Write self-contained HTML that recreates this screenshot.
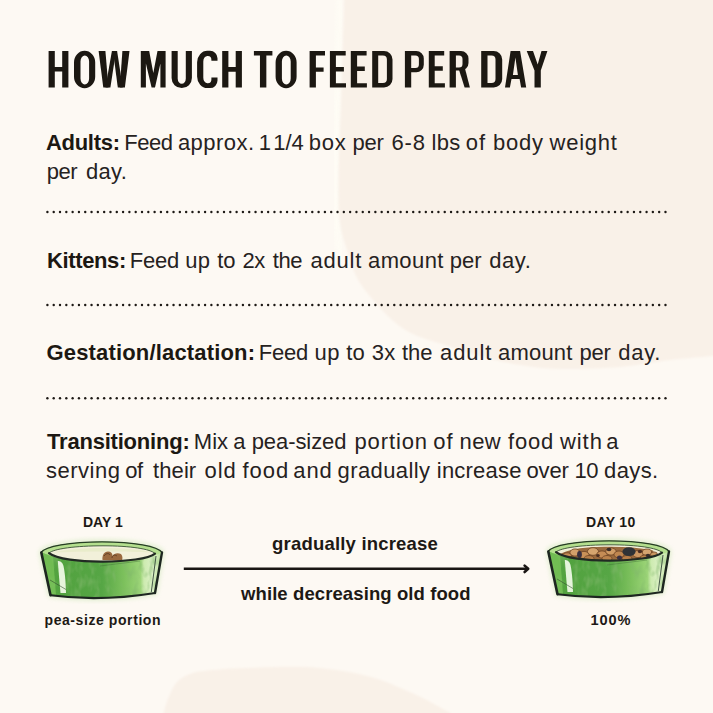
<!DOCTYPE html>
<html><head><meta charset="utf-8">
<style>
html,body{margin:0;padding:0;}
body{width:713px;height:713px;overflow:hidden;position:relative;background:#fdf9f3;font-family:"Liberation Sans",sans-serif;color:#1d1915;}
svg{position:absolute;left:0;top:0;}
.t{position:absolute;white-space:nowrap;}
.tw{position:absolute;top:42.5px;font-size:52px;line-height:54px;font-weight:bold;transform-origin:0 0;-webkit-text-stroke:1.4px #1d1915;white-space:nowrap;}
.p{position:absolute;left:47px;font-size:22px;line-height:29px;white-space:nowrap;letter-spacing:0px;color:#26221e;}
.p b{letter-spacing:0;}
.l{position:absolute;font-weight:bold;white-space:nowrap;line-height:20px;}
</style></head><body>
<svg width="713" height="713" viewBox="0 0 713 713">
  <defs><filter id="bl" x="-10%" y="-10%" width="120%" height="120%"><feGaussianBlur stdDeviation="1.3"/></filter><filter id="bl2" x="-10%" y="-10%" width="120%" height="120%"><feGaussianBlur stdDeviation="2.5"/></filter></defs><path d="M340,-5 C338.5,60 336,120 335,180 C335,215 337,240 341,260" fill="none" stroke="#fffef6" stroke-width="6" opacity="0.7" filter="url(#bl2)"/><path d="M344.6,-10 C344.5,-6.7 344.4,-6.7 343.9,10 C343.4,26.7 342.4,61.7 341.5,90 C340.6,118.3 338.8,158.0 338.5,180 C338.2,202.0 338.6,210.3 340,222 C341.4,233.7 344.2,240.7 347,250 C349.8,259.3 352.5,269.5 357,278 C361.5,286.5 368.3,294.2 374,301 C379.7,307.8 385.5,314.0 391,319 C396.5,324.0 401.7,327.8 407,331 C412.3,334.2 416.7,335.7 423,338 C429.3,340.3 436.3,342.2 445,345 C453.7,347.8 462.5,351.7 475,355 C487.5,358.3 505.8,362.7 520,365 C534.2,367.3 543.3,368.7 560,369 C576.7,369.3 601.7,368.5 620,367 C638.3,365.5 654.5,361.8 670,360 C685.5,358.2 704.2,356.8 713,356 C721.8,355.2 721.3,355.6 723,355.5 L723,-10 Z" fill="#f9f1e8" filter="url(#bl)"/>
  <path d="M163.7,723 C163.7,721.3 162.8,717.5 163.7,713 C164.6,708.5 166.7,701.5 169,696.3 C171.3,691.1 173.6,685.5 177.4,681.6 C181.2,677.8 186.1,675.1 192,673.2 C197.9,671.3 204.2,670.9 213,670 C221.8,669.1 230.2,668.5 244.7,668 C259.2,667.5 283.3,666.2 300,666.8 C316.7,667.3 331.8,669.2 344.9,671.3 C358.0,673.4 369.1,676.4 378.5,679.2 C387.9,682.0 393.5,685.0 401,688.2 C408.5,691.4 415.9,694.5 423.4,698.2 C430.9,701.9 441.5,708.1 445.9,710.6 C450.3,713.1 449.0,710.9 450,713 C451.0,715.1 451.7,721.3 452,723 Z" fill="#f9f1e8" filter="url(#bl)"/>
  <g fill="#1d1915"><circle cx="47.40" cy="212.0" r="1.2"/><circle cx="53.71" cy="212.0" r="1.2"/><circle cx="60.01" cy="212.0" r="1.2"/><circle cx="66.32" cy="212.0" r="1.2"/><circle cx="72.63" cy="212.0" r="1.2"/><circle cx="78.94" cy="212.0" r="1.2"/><circle cx="85.24" cy="212.0" r="1.2"/><circle cx="91.55" cy="212.0" r="1.2"/><circle cx="97.86" cy="212.0" r="1.2"/><circle cx="104.16" cy="212.0" r="1.2"/><circle cx="110.47" cy="212.0" r="1.2"/><circle cx="116.78" cy="212.0" r="1.2"/><circle cx="123.08" cy="212.0" r="1.2"/><circle cx="129.39" cy="212.0" r="1.2"/><circle cx="135.70" cy="212.0" r="1.2"/><circle cx="142.00" cy="212.0" r="1.2"/><circle cx="148.31" cy="212.0" r="1.2"/><circle cx="154.62" cy="212.0" r="1.2"/><circle cx="160.93" cy="212.0" r="1.2"/><circle cx="167.23" cy="212.0" r="1.2"/><circle cx="173.54" cy="212.0" r="1.2"/><circle cx="179.85" cy="212.0" r="1.2"/><circle cx="186.15" cy="212.0" r="1.2"/><circle cx="192.46" cy="212.0" r="1.2"/><circle cx="198.77" cy="212.0" r="1.2"/><circle cx="205.08" cy="212.0" r="1.2"/><circle cx="211.38" cy="212.0" r="1.2"/><circle cx="217.69" cy="212.0" r="1.2"/><circle cx="224.00" cy="212.0" r="1.2"/><circle cx="230.30" cy="212.0" r="1.2"/><circle cx="236.61" cy="212.0" r="1.2"/><circle cx="242.92" cy="212.0" r="1.2"/><circle cx="249.22" cy="212.0" r="1.2"/><circle cx="255.53" cy="212.0" r="1.2"/><circle cx="261.84" cy="212.0" r="1.2"/><circle cx="268.14" cy="212.0" r="1.2"/><circle cx="274.45" cy="212.0" r="1.2"/><circle cx="280.76" cy="212.0" r="1.2"/><circle cx="287.07" cy="212.0" r="1.2"/><circle cx="293.37" cy="212.0" r="1.2"/><circle cx="299.68" cy="212.0" r="1.2"/><circle cx="305.99" cy="212.0" r="1.2"/><circle cx="312.29" cy="212.0" r="1.2"/><circle cx="318.60" cy="212.0" r="1.2"/><circle cx="324.91" cy="212.0" r="1.2"/><circle cx="331.21" cy="212.0" r="1.2"/><circle cx="337.52" cy="212.0" r="1.2"/><circle cx="343.83" cy="212.0" r="1.2"/><circle cx="350.14" cy="212.0" r="1.2"/><circle cx="356.44" cy="212.0" r="1.2"/><circle cx="362.75" cy="212.0" r="1.2"/><circle cx="369.06" cy="212.0" r="1.2"/><circle cx="375.36" cy="212.0" r="1.2"/><circle cx="381.67" cy="212.0" r="1.2"/><circle cx="387.98" cy="212.0" r="1.2"/><circle cx="394.29" cy="212.0" r="1.2"/><circle cx="400.59" cy="212.0" r="1.2"/><circle cx="406.90" cy="212.0" r="1.2"/><circle cx="413.21" cy="212.0" r="1.2"/><circle cx="419.51" cy="212.0" r="1.2"/><circle cx="425.82" cy="212.0" r="1.2"/><circle cx="432.13" cy="212.0" r="1.2"/><circle cx="438.43" cy="212.0" r="1.2"/><circle cx="444.74" cy="212.0" r="1.2"/><circle cx="451.05" cy="212.0" r="1.2"/><circle cx="457.36" cy="212.0" r="1.2"/><circle cx="463.66" cy="212.0" r="1.2"/><circle cx="469.97" cy="212.0" r="1.2"/><circle cx="476.28" cy="212.0" r="1.2"/><circle cx="482.58" cy="212.0" r="1.2"/><circle cx="488.89" cy="212.0" r="1.2"/><circle cx="495.20" cy="212.0" r="1.2"/><circle cx="501.50" cy="212.0" r="1.2"/><circle cx="507.81" cy="212.0" r="1.2"/><circle cx="514.12" cy="212.0" r="1.2"/><circle cx="520.43" cy="212.0" r="1.2"/><circle cx="526.73" cy="212.0" r="1.2"/><circle cx="533.04" cy="212.0" r="1.2"/><circle cx="539.35" cy="212.0" r="1.2"/><circle cx="545.65" cy="212.0" r="1.2"/><circle cx="551.96" cy="212.0" r="1.2"/><circle cx="558.27" cy="212.0" r="1.2"/><circle cx="564.57" cy="212.0" r="1.2"/><circle cx="570.88" cy="212.0" r="1.2"/><circle cx="577.19" cy="212.0" r="1.2"/><circle cx="583.50" cy="212.0" r="1.2"/><circle cx="589.80" cy="212.0" r="1.2"/><circle cx="596.11" cy="212.0" r="1.2"/><circle cx="602.42" cy="212.0" r="1.2"/><circle cx="608.72" cy="212.0" r="1.2"/><circle cx="615.03" cy="212.0" r="1.2"/><circle cx="621.34" cy="212.0" r="1.2"/><circle cx="627.64" cy="212.0" r="1.2"/><circle cx="633.95" cy="212.0" r="1.2"/><circle cx="640.26" cy="212.0" r="1.2"/><circle cx="646.57" cy="212.0" r="1.2"/><circle cx="652.87" cy="212.0" r="1.2"/><circle cx="659.18" cy="212.0" r="1.2"/><circle cx="665.49" cy="212.0" r="1.2"/><circle cx="47.40" cy="305.0" r="1.2"/><circle cx="53.71" cy="305.0" r="1.2"/><circle cx="60.01" cy="305.0" r="1.2"/><circle cx="66.32" cy="305.0" r="1.2"/><circle cx="72.63" cy="305.0" r="1.2"/><circle cx="78.94" cy="305.0" r="1.2"/><circle cx="85.24" cy="305.0" r="1.2"/><circle cx="91.55" cy="305.0" r="1.2"/><circle cx="97.86" cy="305.0" r="1.2"/><circle cx="104.16" cy="305.0" r="1.2"/><circle cx="110.47" cy="305.0" r="1.2"/><circle cx="116.78" cy="305.0" r="1.2"/><circle cx="123.08" cy="305.0" r="1.2"/><circle cx="129.39" cy="305.0" r="1.2"/><circle cx="135.70" cy="305.0" r="1.2"/><circle cx="142.00" cy="305.0" r="1.2"/><circle cx="148.31" cy="305.0" r="1.2"/><circle cx="154.62" cy="305.0" r="1.2"/><circle cx="160.93" cy="305.0" r="1.2"/><circle cx="167.23" cy="305.0" r="1.2"/><circle cx="173.54" cy="305.0" r="1.2"/><circle cx="179.85" cy="305.0" r="1.2"/><circle cx="186.15" cy="305.0" r="1.2"/><circle cx="192.46" cy="305.0" r="1.2"/><circle cx="198.77" cy="305.0" r="1.2"/><circle cx="205.08" cy="305.0" r="1.2"/><circle cx="211.38" cy="305.0" r="1.2"/><circle cx="217.69" cy="305.0" r="1.2"/><circle cx="224.00" cy="305.0" r="1.2"/><circle cx="230.30" cy="305.0" r="1.2"/><circle cx="236.61" cy="305.0" r="1.2"/><circle cx="242.92" cy="305.0" r="1.2"/><circle cx="249.22" cy="305.0" r="1.2"/><circle cx="255.53" cy="305.0" r="1.2"/><circle cx="261.84" cy="305.0" r="1.2"/><circle cx="268.14" cy="305.0" r="1.2"/><circle cx="274.45" cy="305.0" r="1.2"/><circle cx="280.76" cy="305.0" r="1.2"/><circle cx="287.07" cy="305.0" r="1.2"/><circle cx="293.37" cy="305.0" r="1.2"/><circle cx="299.68" cy="305.0" r="1.2"/><circle cx="305.99" cy="305.0" r="1.2"/><circle cx="312.29" cy="305.0" r="1.2"/><circle cx="318.60" cy="305.0" r="1.2"/><circle cx="324.91" cy="305.0" r="1.2"/><circle cx="331.21" cy="305.0" r="1.2"/><circle cx="337.52" cy="305.0" r="1.2"/><circle cx="343.83" cy="305.0" r="1.2"/><circle cx="350.14" cy="305.0" r="1.2"/><circle cx="356.44" cy="305.0" r="1.2"/><circle cx="362.75" cy="305.0" r="1.2"/><circle cx="369.06" cy="305.0" r="1.2"/><circle cx="375.36" cy="305.0" r="1.2"/><circle cx="381.67" cy="305.0" r="1.2"/><circle cx="387.98" cy="305.0" r="1.2"/><circle cx="394.29" cy="305.0" r="1.2"/><circle cx="400.59" cy="305.0" r="1.2"/><circle cx="406.90" cy="305.0" r="1.2"/><circle cx="413.21" cy="305.0" r="1.2"/><circle cx="419.51" cy="305.0" r="1.2"/><circle cx="425.82" cy="305.0" r="1.2"/><circle cx="432.13" cy="305.0" r="1.2"/><circle cx="438.43" cy="305.0" r="1.2"/><circle cx="444.74" cy="305.0" r="1.2"/><circle cx="451.05" cy="305.0" r="1.2"/><circle cx="457.36" cy="305.0" r="1.2"/><circle cx="463.66" cy="305.0" r="1.2"/><circle cx="469.97" cy="305.0" r="1.2"/><circle cx="476.28" cy="305.0" r="1.2"/><circle cx="482.58" cy="305.0" r="1.2"/><circle cx="488.89" cy="305.0" r="1.2"/><circle cx="495.20" cy="305.0" r="1.2"/><circle cx="501.50" cy="305.0" r="1.2"/><circle cx="507.81" cy="305.0" r="1.2"/><circle cx="514.12" cy="305.0" r="1.2"/><circle cx="520.43" cy="305.0" r="1.2"/><circle cx="526.73" cy="305.0" r="1.2"/><circle cx="533.04" cy="305.0" r="1.2"/><circle cx="539.35" cy="305.0" r="1.2"/><circle cx="545.65" cy="305.0" r="1.2"/><circle cx="551.96" cy="305.0" r="1.2"/><circle cx="558.27" cy="305.0" r="1.2"/><circle cx="564.57" cy="305.0" r="1.2"/><circle cx="570.88" cy="305.0" r="1.2"/><circle cx="577.19" cy="305.0" r="1.2"/><circle cx="583.50" cy="305.0" r="1.2"/><circle cx="589.80" cy="305.0" r="1.2"/><circle cx="596.11" cy="305.0" r="1.2"/><circle cx="602.42" cy="305.0" r="1.2"/><circle cx="608.72" cy="305.0" r="1.2"/><circle cx="615.03" cy="305.0" r="1.2"/><circle cx="621.34" cy="305.0" r="1.2"/><circle cx="627.64" cy="305.0" r="1.2"/><circle cx="633.95" cy="305.0" r="1.2"/><circle cx="640.26" cy="305.0" r="1.2"/><circle cx="646.57" cy="305.0" r="1.2"/><circle cx="652.87" cy="305.0" r="1.2"/><circle cx="659.18" cy="305.0" r="1.2"/><circle cx="665.49" cy="305.0" r="1.2"/><circle cx="47.40" cy="398.2" r="1.2"/><circle cx="53.71" cy="398.2" r="1.2"/><circle cx="60.01" cy="398.2" r="1.2"/><circle cx="66.32" cy="398.2" r="1.2"/><circle cx="72.63" cy="398.2" r="1.2"/><circle cx="78.94" cy="398.2" r="1.2"/><circle cx="85.24" cy="398.2" r="1.2"/><circle cx="91.55" cy="398.2" r="1.2"/><circle cx="97.86" cy="398.2" r="1.2"/><circle cx="104.16" cy="398.2" r="1.2"/><circle cx="110.47" cy="398.2" r="1.2"/><circle cx="116.78" cy="398.2" r="1.2"/><circle cx="123.08" cy="398.2" r="1.2"/><circle cx="129.39" cy="398.2" r="1.2"/><circle cx="135.70" cy="398.2" r="1.2"/><circle cx="142.00" cy="398.2" r="1.2"/><circle cx="148.31" cy="398.2" r="1.2"/><circle cx="154.62" cy="398.2" r="1.2"/><circle cx="160.93" cy="398.2" r="1.2"/><circle cx="167.23" cy="398.2" r="1.2"/><circle cx="173.54" cy="398.2" r="1.2"/><circle cx="179.85" cy="398.2" r="1.2"/><circle cx="186.15" cy="398.2" r="1.2"/><circle cx="192.46" cy="398.2" r="1.2"/><circle cx="198.77" cy="398.2" r="1.2"/><circle cx="205.08" cy="398.2" r="1.2"/><circle cx="211.38" cy="398.2" r="1.2"/><circle cx="217.69" cy="398.2" r="1.2"/><circle cx="224.00" cy="398.2" r="1.2"/><circle cx="230.30" cy="398.2" r="1.2"/><circle cx="236.61" cy="398.2" r="1.2"/><circle cx="242.92" cy="398.2" r="1.2"/><circle cx="249.22" cy="398.2" r="1.2"/><circle cx="255.53" cy="398.2" r="1.2"/><circle cx="261.84" cy="398.2" r="1.2"/><circle cx="268.14" cy="398.2" r="1.2"/><circle cx="274.45" cy="398.2" r="1.2"/><circle cx="280.76" cy="398.2" r="1.2"/><circle cx="287.07" cy="398.2" r="1.2"/><circle cx="293.37" cy="398.2" r="1.2"/><circle cx="299.68" cy="398.2" r="1.2"/><circle cx="305.99" cy="398.2" r="1.2"/><circle cx="312.29" cy="398.2" r="1.2"/><circle cx="318.60" cy="398.2" r="1.2"/><circle cx="324.91" cy="398.2" r="1.2"/><circle cx="331.21" cy="398.2" r="1.2"/><circle cx="337.52" cy="398.2" r="1.2"/><circle cx="343.83" cy="398.2" r="1.2"/><circle cx="350.14" cy="398.2" r="1.2"/><circle cx="356.44" cy="398.2" r="1.2"/><circle cx="362.75" cy="398.2" r="1.2"/><circle cx="369.06" cy="398.2" r="1.2"/><circle cx="375.36" cy="398.2" r="1.2"/><circle cx="381.67" cy="398.2" r="1.2"/><circle cx="387.98" cy="398.2" r="1.2"/><circle cx="394.29" cy="398.2" r="1.2"/><circle cx="400.59" cy="398.2" r="1.2"/><circle cx="406.90" cy="398.2" r="1.2"/><circle cx="413.21" cy="398.2" r="1.2"/><circle cx="419.51" cy="398.2" r="1.2"/><circle cx="425.82" cy="398.2" r="1.2"/><circle cx="432.13" cy="398.2" r="1.2"/><circle cx="438.43" cy="398.2" r="1.2"/><circle cx="444.74" cy="398.2" r="1.2"/><circle cx="451.05" cy="398.2" r="1.2"/><circle cx="457.36" cy="398.2" r="1.2"/><circle cx="463.66" cy="398.2" r="1.2"/><circle cx="469.97" cy="398.2" r="1.2"/><circle cx="476.28" cy="398.2" r="1.2"/><circle cx="482.58" cy="398.2" r="1.2"/><circle cx="488.89" cy="398.2" r="1.2"/><circle cx="495.20" cy="398.2" r="1.2"/><circle cx="501.50" cy="398.2" r="1.2"/><circle cx="507.81" cy="398.2" r="1.2"/><circle cx="514.12" cy="398.2" r="1.2"/><circle cx="520.43" cy="398.2" r="1.2"/><circle cx="526.73" cy="398.2" r="1.2"/><circle cx="533.04" cy="398.2" r="1.2"/><circle cx="539.35" cy="398.2" r="1.2"/><circle cx="545.65" cy="398.2" r="1.2"/><circle cx="551.96" cy="398.2" r="1.2"/><circle cx="558.27" cy="398.2" r="1.2"/><circle cx="564.57" cy="398.2" r="1.2"/><circle cx="570.88" cy="398.2" r="1.2"/><circle cx="577.19" cy="398.2" r="1.2"/><circle cx="583.50" cy="398.2" r="1.2"/><circle cx="589.80" cy="398.2" r="1.2"/><circle cx="596.11" cy="398.2" r="1.2"/><circle cx="602.42" cy="398.2" r="1.2"/><circle cx="608.72" cy="398.2" r="1.2"/><circle cx="615.03" cy="398.2" r="1.2"/><circle cx="621.34" cy="398.2" r="1.2"/><circle cx="627.64" cy="398.2" r="1.2"/><circle cx="633.95" cy="398.2" r="1.2"/><circle cx="640.26" cy="398.2" r="1.2"/><circle cx="646.57" cy="398.2" r="1.2"/><circle cx="652.87" cy="398.2" r="1.2"/><circle cx="659.18" cy="398.2" r="1.2"/><circle cx="665.49" cy="398.2" r="1.2"/></g>
</svg>
<svg width="713" height="713" viewBox="0 0 713 713"><g fill="#1c1812"><path d="M48.60,51.00H54.80V87.60H48.60ZM62.20,51.00H68.40V87.60H62.20ZM54.30,66.90H62.70V71.50H54.30Z" fill-rule="nonzero"/><path d="M84.60,50.80H84.60A10.60,11.50 0 0 1 95.20,62.30V76.70A10.60,11.50 0 0 1 84.60,88.20H84.60A10.60,11.50 0 0 1 74.00,76.70V62.30A10.60,11.50 0 0 1 84.60,50.80ZM84.80,55.60H84.80A4.30,5.80 0 0 1 89.10,61.40V78.60A4.30,5.80 0 0 1 84.80,84.40H84.80A4.30,5.80 0 0 1 80.50,78.60V61.40A4.30,5.80 0 0 1 84.80,55.60Z" fill-rule="evenodd"/><path d="M98.60,51.00L105.40,51.00L108.50,87.60L103.30,87.60Z" fill-rule="nonzero"/><path d="M105.50,87.60L110.40,87.60L116.00,51.00L111.90,51.00Z" fill-rule="nonzero"/><path d="M113.00,51.00L117.10,51.00L122.70,87.60L117.80,87.60Z" fill-rule="nonzero"/><path d="M119.80,87.60L124.90,87.60L129.50,51.00L122.40,51.00Z" fill-rule="nonzero"/><path d="M140.80,87.60L140.80,51.00L149.20,51.00L153.30,73.00L157.50,51.00L165.60,51.00L165.60,87.60L160.40,87.60L160.40,63.50L155.00,87.60L151.60,87.60L145.90,63.50L145.90,87.60Z" fill-rule="nonzero"/><path d="M171.6,51H177.7V78.5A4.05,5.3 0 0 0 185.8,78.5V51H191.9V78A10.15,10.1 0 0 1 171.6,78Z" fill-rule="nonzero"/><path d="M222.20,51.00H228.40V87.60H222.20ZM235.70,51.00H241.90V87.60H235.70ZM227.90,67.10H236.20V71.80H227.90Z" fill-rule="nonzero"/><path d="M253.90,51.00H272.40V55.60H253.90ZM259.95,51.00H266.35V87.60H259.95Z" fill-rule="nonzero"/><path d="M286.10,50.80H286.10A10.50,11.50 0 0 1 296.60,62.30V76.70A10.50,11.50 0 0 1 286.10,88.20H286.10A10.50,11.50 0 0 1 275.60,76.70V62.30A10.50,11.50 0 0 1 286.10,50.80ZM286.30,55.60H286.30A4.40,5.90 0 0 1 290.70,61.50V78.50A4.40,5.90 0 0 1 286.30,84.40H286.30A4.40,5.90 0 0 1 281.90,78.50V61.50A4.40,5.90 0 0 1 286.30,55.60Z" fill-rule="evenodd"/><path d="M309.60,51.00H315.90V87.60H309.60ZM315.40,51.00H325.00V55.40H315.40ZM315.40,67.60H323.60V71.80H315.40Z" fill-rule="nonzero"/><path d="M329.90,51.00H335.90V87.60H329.90ZM335.40,51.00H345.70V55.40H335.40ZM335.40,66.90H343.90V71.50H335.40ZM335.40,83.20H346.00V87.60H335.40Z" fill-rule="nonzero"/><path d="M350.80,51.00H357.10V87.60H350.80ZM356.60,51.00H366.60V55.40H356.60ZM356.60,66.60H364.80V71.10H356.60ZM356.60,83.20H366.90V87.60H356.60Z" fill-rule="nonzero"/><path d="M372.20,51.00H384.00A8.5,8.5 0 0 1 392.50,59.50V79.10A8.5,8.5 0 0 1 384.00,87.60H372.20ZM378.20,55.40H382.90A4.0,4.0 0 0 1 386.90,59.40V79.00A4.0,4.0 0 0 1 382.90,83.00H378.20Z" fill-rule="evenodd"/><path d="M404.90,51.00H416.30A7.5,7.5 0 0 1 423.80,58.50V64.70A7.5,7.5 0 0 1 416.30,72.20H411.20V87.60H404.90ZM411.20,55.40H415.40A3.5,3.5 0 0 1 418.90,58.90V64.50A3.5,3.5 0 0 1 415.40,68.00H411.20Z" fill-rule="evenodd"/><path d="M428.80,51.00H434.70V87.60H428.80ZM434.20,51.00H444.20V55.40H434.20ZM434.20,66.20H442.80V70.80H434.20ZM434.20,83.20H444.90V87.60H434.20Z" fill-rule="nonzero"/><path d="M449.60,51.00H461.00A7.5,7.5 0 0 1 468.50,58.50V62.90A7.5,7.5 0 0 1 461.00,70.40H455.90V87.60H449.60ZM455.90,55.40H459.00A3.5,3.5 0 0 1 462.50,58.90V64.10A3.5,3.5 0 0 1 459.00,67.60H455.90Z" fill-rule="evenodd"/><path d="M458.60,68.50L465.00,68.50L469.90,87.60L464.60,87.60Z" fill-rule="nonzero"/><path d="M481.20,51.00H493.70A8.5,8.5 0 0 1 502.20,59.50V79.10A8.5,8.5 0 0 1 493.70,87.60H481.20ZM487.50,55.40H491.50A4.0,4.0 0 0 1 495.50,59.40V79.00A4.0,4.0 0 0 1 491.50,83.00H487.50Z" fill-rule="evenodd"/><path d="M505.00,87.60L510.60,51.00L520.10,51.00L526.20,87.60L521.10,87.60L519.60,79.00L511.50,79.00L509.90,87.60ZM512.90,75.00L515.40,57.50L517.90,75.00Z" fill-rule="evenodd"/><path d="M526.70,51.00L533.00,51.00L537.70,64.50L541.50,51.00L547.40,51.00L540.80,70.40L540.80,87.60L534.50,87.60L534.50,70.40Z" fill-rule="nonzero"/></g><clipPath id="cclip"><path d="M190,45H225V60.7H211V77.6H225V95H190Z"/></clipPath><path d="M207.30,50.80H210.00A7.5,7.5 0 0 1 217.50,58.30V80.60A7.5,7.5 0 0 1 210.00,88.10H207.30A10.2,11.5 0 0 1 197.10,76.60V62.30A10.2,11.5 0 0 1 207.30,50.80ZM207.35,56.00H207.90A3.5,4 0 0 1 211.40,60.00V79.20A3.5,4 0 0 1 207.90,83.20H207.35A4.05,5.5 0 0 1 203.30,77.70V61.50A4.05,5.5 0 0 1 207.35,56.00Z" fill="#1c1812" fill-rule="evenodd" clip-path="url(#cclip)"/></svg>
<div class="p" style="top:127.5px;left:46.0px;letter-spacing:-0.3px;font-weight:bold;color:#1c1812">Adults:</div>
<div class="p" style="top:127.5px;left:124.15px;letter-spacing:-0.4px">Feed</div>
<div class="p" style="top:127.5px;left:177.9px;letter-spacing:0.483px">approx.</div>
<div class="p" style="top:127.5px;left:258.7px;letter-spacing:0.0px">1</div>
<div class="p" style="top:127.5px;left:273.3px;letter-spacing:-0.1px">1/4</div>
<div class="p" style="top:127.5px;left:308.8px;letter-spacing:0.7px">box</div>
<div class="p" style="top:127.5px;left:352.5px;letter-spacing:-0.25px">per</div>
<div class="p" style="top:127.5px;left:391.6px;letter-spacing:0.75px">6-8</div>
<div class="p" style="top:127.5px;left:431.5px;letter-spacing:0.3px">lbs</div>
<div class="p" style="top:127.5px;left:465.75px;letter-spacing:0.9px">of</div>
<div class="p" style="top:127.5px;left:493.0px;letter-spacing:0.767px">body</div>
<div class="p" style="top:127.5px;left:549.6px;letter-spacing:0.74px">weight</div>
<div class="p" style="top:156.5px;left:46.7px;letter-spacing:-0.4px">per</div>
<div class="p" style="top:156.5px;left:86.0px;letter-spacing:0.3px">day.</div>
<div class="p" style="top:245.5px;left:47.1px;letter-spacing:-0.386px;font-weight:bold;color:#1c1812">Kittens:</div>
<div class="p" style="top:245.5px;left:129.7px;letter-spacing:-0.233px">Feed</div>
<div class="p" style="top:245.5px;left:185.3px;letter-spacing:0.2px">up</div>
<div class="p" style="top:245.5px;left:217.2px;letter-spacing:0.0px">to</div>
<div class="p" style="top:245.5px;left:242.4px;letter-spacing:-0.4px">2x</div>
<div class="p" style="top:245.5px;left:272.7px;letter-spacing:-0.35px">the</div>
<div class="p" style="top:245.5px;left:310.5px;letter-spacing:0.775px">adult</div>
<div class="p" style="top:245.5px;left:368.0px;letter-spacing:0.4px">amount</div>
<div class="p" style="top:245.5px;left:449.8px;letter-spacing:0.0px">per</div>
<div class="p" style="top:245.5px;left:489.2px;letter-spacing:0.6px">day.</div>
<div class="p" style="top:338px;left:46.5px;letter-spacing:0.168px;font-weight:bold;color:#1c1812">Gestation/lactation:</div>
<div class="p" style="top:338px;left:258.8px;letter-spacing:-0.267px">Feed</div>
<div class="p" style="top:338px;left:314.4px;letter-spacing:0.5px">up</div>
<div class="p" style="top:338px;left:346.3px;letter-spacing:0.2px">to</div>
<div class="p" style="top:338px;left:371.8px;letter-spacing:0.2px">3x</div>
<div class="p" style="top:338px;left:402.0px;letter-spacing:0.0px">the</div>
<div class="p" style="top:338px;left:440.1px;letter-spacing:0.875px">adult</div>
<div class="p" style="top:338px;left:498.0px;letter-spacing:0.2px">amount</div>
<div class="p" style="top:338px;left:579.5px;letter-spacing:-0.25px">per</div>
<div class="p" style="top:338px;left:618.2px;letter-spacing:0.767px">day.</div>
<div class="p" style="top:427px;left:47.1px;letter-spacing:-0.215px;font-weight:bold;color:#1c1812">Transitioning:</div>
<div class="p" style="top:427px;left:193.8px;letter-spacing:0.05px">Mix</div>
<div class="p" style="top:427px;left:233.35px;letter-spacing:0.0px">a</div>
<div class="p" style="top:427px;left:251.7px;letter-spacing:-0.075px">pea-sized</div>
<div class="p" style="top:427px;left:354.5px;letter-spacing:0.867px">portion</div>
<div class="p" style="top:427px;left:433.3px;letter-spacing:0.9px">of</div>
<div class="p" style="top:427px;left:459.5px;letter-spacing:0.45px">new</div>
<div class="p" style="top:427px;left:508.1px;letter-spacing:0.733px">food</div>
<div class="p" style="top:427px;left:560.05px;letter-spacing:0.9px">with</div>
<div class="p" style="top:427px;left:606.25px;letter-spacing:0.0px">a</div>
<div class="p" style="top:456px;left:46.1px;letter-spacing:0.483px">serving</div>
<div class="p" style="top:456px;left:125.2px;letter-spacing:-0.4px">of</div>
<div class="p" style="top:456px;left:153.1px;letter-spacing:0.075px">their</div>
<div class="p" style="top:456px;left:204.55px;letter-spacing:0.9px">old</div>
<div class="p" style="top:456px;left:242.6px;letter-spacing:0.9px">food</div>
<div class="p" style="top:456px;left:293.3px;letter-spacing:0.9px">and</div>
<div class="p" style="top:456px;left:337.5px;letter-spacing:0.413px">gradually</div>
<div class="p" style="top:456px;left:436.8px;letter-spacing:0.214px">increase</div>
<div class="p" style="top:456px;left:526.4px;letter-spacing:-0.1px">over</div>
<div class="p" style="top:456px;left:574.4px;letter-spacing:-0.4px">10</div>
<div class="p" style="top:456px;left:604.0px;letter-spacing:0.4px">days.</div>

<div class="l" style="left:83px;top:512px;font-size:14px">DAY 1</div>
<div class="l" style="left:586px;top:512px;font-size:14px;letter-spacing:0.35px">DAY 10</div>
<div class="l" style="left:272px;top:534px;font-size:18.5px;letter-spacing:0.2px">gradually increase</div>
<div class="l" style="left:241px;top:584px;font-size:18.5px;letter-spacing:0.1px">while decreasing old food</div>
<div class="l" style="left:44.5px;top:610px;font-size:14px;letter-spacing:0.58px">pea-size portion</div>
<div class="l" style="left:590.5px;top:609.7px;font-size:14.6px;letter-spacing:0.9px">100%</div>
<svg width="713" height="713" viewBox="0 0 713 713">
  <defs>
    <filter id="tex" x="0" y="0" width="100%" height="100%">
      <feTurbulence type="fractalNoise" baseFrequency="0.18 0.09" numOctaves="2" seed="3" result="n"/>
      <feColorMatrix in="n" type="matrix" values="0 0 0 0 0.22  0 0 0 0 0.48  0 0 0 0 0.15  2.6 0 0 0 -1.15" result="c"/>
      <feComposite in="c" in2="SourceGraphic" operator="in"/>
    </filter>
    <linearGradient id="gbody" gradientUnits="userSpaceOnUse" x1="42" y1="0" x2="162" y2="0">
      <stop offset="0" stop-color="#5aa844"/>
      <stop offset="0.15" stop-color="#52a23f"/>
      <stop offset="0.5" stop-color="#56a645"/>
      <stop offset="0.68" stop-color="#7cc05c"/>
      <stop offset="0.82" stop-color="#9cd478"/>
      <stop offset="0.85" stop-color="#cdebb0"/>
      <stop offset="0.92" stop-color="#dcf0c6"/>
      <stop offset="1" stop-color="#c2e4a4"/>
    </linearGradient>
  </defs>
  <path d="M183.8,568.8 L527.5,568.8" stroke="#1a1613" stroke-width="2.5"/>
  <path d="M524.6,565.6 L528.2,568.8 L524.6,572" stroke="#1a1613" stroke-width="2.6" fill="none" stroke-linejoin="round" stroke-linecap="round"/>
  <g>
  <path d="M41.5,552.2 C45,546.3 70,541.8 102,541.8 C134,541.8 158,546.3 162,552.4 L155,593 Q100,602 50.5,595.3 Z" fill="none" stroke="#a8d888" stroke-width="3" opacity="0.55" filter="url(#bl2)"/>
  <path d="M41.5,552.2 C45,546.3 70,541.8 102,541.8 C134,541.8 158,546.3 162,552.4 L155,593 Q100,602 50.5,595.3 Z" fill="url(#gbody)"/>
  <path d="M41.5,552.2 C45,546.3 70,541.8 102,541.8 C134,541.8 158,546.3 162,552.4 L155,593 Q100,602 50.5,595.3 Z" fill="#000" filter="url(#tex)" opacity="0.55"/>
  <path d="M41.5,552.2 C45,546.3 70,541.8 102,541.8 C134,541.8 158,546.3 162,552.4 C152,557 130,561 103,561.6 C76,561.8 52,558 41.5,552.2 Z" fill="#b4df8e"/>
  <path d="M42.5,553 L50.5,594 L56,595 L53,556 Z" fill="#7cc65a" opacity="0.7"/>
  <path d="M49,553.2 C53,548.8 76,545.8 103,545.8 C130,545.8 151,549 155,553.6 C149,558.8 126,561.4 103,561.6 C80,561.8 56,559 49,553.2 Z" fill="#f2f0da"/>
  <path d="M52,552.5 C66,549.5 84,548 103,548 C124,548 142,549.5 152,552.5 C130,551 80,551 52,552.5 Z" fill="#e6eac4" opacity="0.7"/>
  <path d="M102.5,560 C102,555 104,552 108,551.5 C111,551.5 112.5,553 112.5,556 C114,553 118,552.5 121,554 C123,556 122.5,559 122,561 Z" fill="#9a6a40"/><path d="M104,556 C106,553 109,553 110,555" stroke="#5a3a22" stroke-width="0.9" fill="none"/><path d="M112,558 C112,555 115,554.5 117,556" stroke="#5a3a22" stroke-width="0.8" fill="none"/>
  <path d="M49,553.2 C53,548.8 76,545.8 103,545.8 C130,545.8 151,549 155,553.6" fill="none" stroke="#2e4a2c" stroke-width="1" opacity="0.85"/>
  <path d="M49,553.2 C56,559 80,561.8 103,561.6 C126,561.4 149,558.8 155,553.6" fill="none" stroke="#212a23" stroke-width="2.2" stroke-linecap="round"/>
  <path d="M57.8,561 C60,561 62.5,562 63.5,566 C64.8,572 65.6,580 66,593 L60.5,593 C59.6,584 58.8,574 57.8,561 Z" fill="#e6f4dc"/>
  <path d="M50,580 L66,589.5" stroke="#2d4a2a" stroke-width="0.8" opacity="0.7"/>
  <path d="M100,566 C115,564 125,563 140,561" stroke="#3d6a34" stroke-width="0.8" opacity="0.5" fill="none"/>
  <path d="M41.5,552.2 C45,546.3 70,541.8 102,541.8 C134,541.8 158,546.3 162,552.4" fill="none" stroke="#263d24" stroke-width="1.3"/>
  <path d="M156,556 L151.3,592" stroke="#33463a" stroke-width="0.9" fill="none"/>
  <path d="M41.3,552.4 L50.5,595.3" stroke="#1d2620" stroke-width="2.6" fill="none" stroke-linecap="round"/>
  <path d="M162,552.4 L155,593" stroke="#1d2620" stroke-width="2.4" fill="none" stroke-linecap="round"/>
  <path d="M50.5,595.3 Q100,602 155,593" fill="none" stroke="#1d2620" stroke-width="2.1"/>
</g>
  <g transform="translate(507,-1)">
  <path d="M41.5,552.2 C45,546.3 70,541.8 102,541.8 C134,541.8 158,546.3 162,552.4 L155,593 Q100,602 50.5,595.3 Z" fill="none" stroke="#a8d888" stroke-width="3" opacity="0.55" filter="url(#bl2)"/>
  <path d="M41.5,552.2 C45,546.3 70,541.8 102,541.8 C134,541.8 158,546.3 162,552.4 L155,593 Q100,602 50.5,595.3 Z" fill="url(#gbody)"/>
  <path d="M41.5,552.2 C45,546.3 70,541.8 102,541.8 C134,541.8 158,546.3 162,552.4 L155,593 Q100,602 50.5,595.3 Z" fill="#000" filter="url(#tex)" opacity="0.55"/>
  <path d="M41.5,552.2 C45,546.3 70,541.8 102,541.8 C134,541.8 158,546.3 162,552.4 C152,557 130,561 103,561.6 C76,561.8 52,558 41.5,552.2 Z" fill="#b4df8e"/>
  <path d="M42.5,553 L50.5,594 L56,595 L53,556 Z" fill="#7cc65a" opacity="0.7"/>
  <path d="M49,553.2 C53,548.8 76,545.8 103,545.8 C130,545.8 151,549 155,553.6 C149,558.8 126,561.4 103,561.6 C80,561.8 56,559 49,553.2 Z" fill="#f2f0da"/>
  <path d="M52,552.5 C66,549.5 84,548 103,548 C124,548 142,549.5 152,552.5 C130,551 80,551 52,552.5 Z" fill="#e6eac4" opacity="0.7"/>
  <clipPath id="ic2"><path d="M49,553.2 C53,548.8 76,545.8 103,545.8 C130,545.8 151,549 155,553.6 C149,558.8 126,561.4 103,561.6 C80,561.8 56,559 49,553.2 Z"/></clipPath>
<g clip-path="url(#ic2)">
<path d="M52,556 C60,550.5 74,548.5 90,548 C110,547.3 128,547.8 146,551.5 L150,563 L52,563 Z" fill="#9a6a3e"/>
<ellipse cx="60" cy="557" rx="4.5" ry="3.2" fill="#c48b55" stroke="#6e4526" stroke-width="0.8"/>
<ellipse cx="68" cy="553.5" rx="5" ry="3.6" fill="#d3a06a" stroke="#6e4526" stroke-width="0.8"/>
<ellipse cx="77" cy="556" rx="5.2" ry="3.6" fill="#c99158" stroke="#6e4526" stroke-width="0.8"/>
<ellipse cx="86" cy="552.5" rx="5.5" ry="3.8" fill="#d6a56f" stroke="#6e4526" stroke-width="0.8"/>
<ellipse cx="95" cy="555.5" rx="5.2" ry="3.6" fill="#c58c55" stroke="#6e4526" stroke-width="0.8"/>
<ellipse cx="104" cy="552.5" rx="5.2" ry="3.6" fill="#d19d66" stroke="#6e4526" stroke-width="0.8"/>
<ellipse cx="112" cy="555.5" rx="5" ry="3.5" fill="#bf864f" stroke="#6e4526" stroke-width="0.8"/>
<ellipse cx="131" cy="555" rx="5.2" ry="3.6" fill="#cc9762" stroke="#6e4526" stroke-width="0.8"/>
<ellipse cx="140" cy="553.2" rx="4.6" ry="3.2" fill="#d4a470" stroke="#6e4526" stroke-width="0.8"/>
<ellipse cx="147" cy="555.5" rx="3.5" ry="2.6" fill="#c9955f" stroke="#6e4526" stroke-width="0.8"/>
<ellipse cx="82" cy="559.5" rx="5" ry="3" fill="#b57d48" stroke="#6e4526" stroke-width="0.8"/>
<ellipse cx="100" cy="559.5" rx="5" ry="3" fill="#ba824c" stroke="#6e4526" stroke-width="0.8"/>
<ellipse cx="120" cy="559.5" rx="5" ry="3" fill="#b57d48" stroke="#6e4526" stroke-width="0.8"/>
<ellipse cx="64" cy="560" rx="4" ry="2.6" fill="#b57d48" stroke="#6e4526" stroke-width="0.8"/>
<ellipse cx="138" cy="558.8" rx="4.5" ry="2.8" fill="#ba824c" stroke="#6e4526" stroke-width="0.8"/>
<ellipse cx="122" cy="552.6" rx="6.6" ry="4.4" fill="#2f3236"/>
<ellipse cx="72.5" cy="555.5" rx="2.4" ry="3.4" fill="#3a3040"/>
<ellipse cx="112.5" cy="558.8" rx="2.6" ry="2.2" fill="#3a3040"/>
<ellipse cx="133" cy="552.5" rx="2.2" ry="1.8" fill="#4a2e22"/>
<ellipse cx="91" cy="556.5" rx="1.8" ry="1.5" fill="#4a2e22"/>
<ellipse cx="102" cy="550.5" rx="2.4" ry="1.8" fill="#3a2c28"/>
<ellipse cx="141" cy="556.5" rx="2.2" ry="1.8" fill="#3a2c28"/>
</g>
  <path d="M49,553.2 C53,548.8 76,545.8 103,545.8 C130,545.8 151,549 155,553.6" fill="none" stroke="#2e4a2c" stroke-width="1" opacity="0.85"/>
  <path d="M49,553.2 C56,559 80,561.8 103,561.6 C126,561.4 149,558.8 155,553.6" fill="none" stroke="#212a23" stroke-width="2.2" stroke-linecap="round"/>
  <path d="M57.8,561 C60,561 62.5,562 63.5,566 C64.8,572 65.6,580 66,593 L60.5,593 C59.6,584 58.8,574 57.8,561 Z" fill="#e6f4dc"/>
  <path d="M50,580 L66,589.5" stroke="#2d4a2a" stroke-width="0.8" opacity="0.7"/>
  <path d="M100,566 C115,564 125,563 140,561" stroke="#3d6a34" stroke-width="0.8" opacity="0.5" fill="none"/>
  <path d="M41.5,552.2 C45,546.3 70,541.8 102,541.8 C134,541.8 158,546.3 162,552.4" fill="none" stroke="#263d24" stroke-width="1.3"/>
  <path d="M156,556 L151.3,592" stroke="#33463a" stroke-width="0.9" fill="none"/>
  <path d="M41.3,552.4 L50.5,595.3" stroke="#1d2620" stroke-width="2.6" fill="none" stroke-linecap="round"/>
  <path d="M162,552.4 L155,593" stroke="#1d2620" stroke-width="2.4" fill="none" stroke-linecap="round"/>
  <path d="M50.5,595.3 Q100,602 155,593" fill="none" stroke="#1d2620" stroke-width="2.1"/>
</g>
</svg>
</body></html>
